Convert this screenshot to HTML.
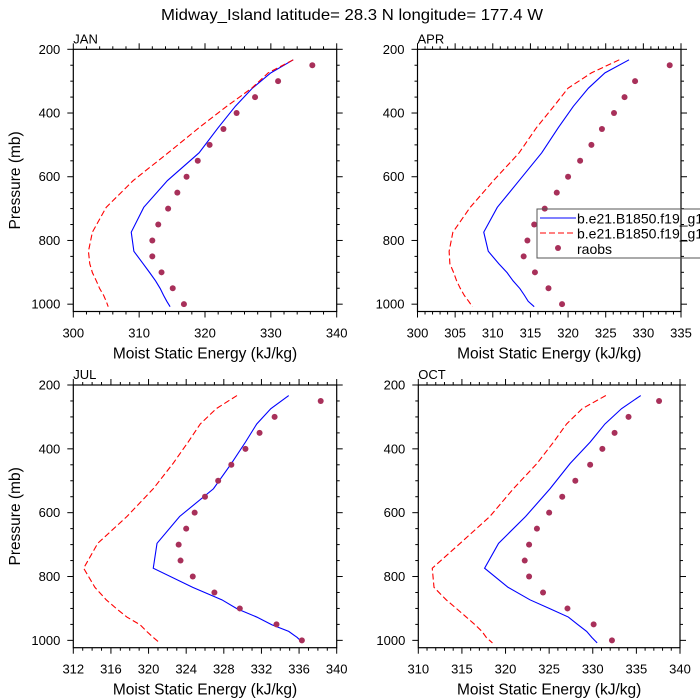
<!DOCTYPE html>
<html><head><meta charset="utf-8"><style>
html,body{margin:0;padding:0;background:#fff;}
svg{display:block;font-family:"Liberation Sans",sans-serif;}
</style></head><body>
<svg id="fig" width="700" height="700" viewBox="0 0 700 700" xmlns="http://www.w3.org/2000/svg">
<rect width="700" height="700" fill="#fff"/>
<text x="352" y="20" font-size="16" text-anchor="middle" textLength="382" lengthAdjust="spacingAndGlyphs">Midway_Island  latitude= 28.3 N longitude= 177.4 W</text>
</svg>
<script>
// Model pressure levels (mb)
const modelLevels = [233,274,322,379,446,525,612,696,774,834,873,901,927,951,972,991,1008];
const obsLevels = [250,300,350,400,450,500,550,600,650,700,750,800,850,900,950,1000];

const janBlue = [333.4,330,327.2,324.6,322,319.1,314.3,310.7,308.8,309.2,310.6,311.6,312.5,313.2,313.7,314.2,314.7];
const janRed  = [333.4,329.6,327.1,323.3,319.1,314.4,309.1,305,302.9,302.3,302.5,302.9,303.5,304,304.6,305,305.3];
const janObs  = [336.3,331.1,327.6,324.8,322.8,320.7,318.9,317.2,315.8,314.4,312.9,312.0,312.0,313.4,315.1,316.8];

const aprBlue = [328.1,324.9,322.7,320.7,318.7,316.5,313.5,310.6,308.8,309.4,310.8,311.9,312.7,313.6,314.2,314.7,315.5];
const aprRed  = [326.8,323.1,320,318.1,315.8,313.5,310.1,307,304.7,304.2,304.3,304.8,305.2,305.7,306.2,306.8,307.3];
const aprObs  = [333.5,328.9,327.5,326.1,324.5,323.1,321.6,320,318.5,316.9,315.5,314.6,314.1,315.6,317.4,319.2];

const julBlue = [334.9,333,331.5,330.3,328.8,326.9,323.3,320.9,320.5,324.7,327.8,329.4,331.5,333.1,334.9,335.8,336.4];
const julRed  = [329.4,327.2,325.5,324.2,322.6,320.5,317.7,314.6,313.1,314.3,315.5,316.6,317.7,319.1,319.8,320.5,321.2];
const julObs  = [338.3,333.4,331.8,330.3,328.8,327.4,326,324.9,324,323.2,323.4,324.7,327,329.7,333.6,336.3];

const octBlue = [335.5,333.3,331.4,329.7,327.4,325.1,322.3,319.2,317.6,320.3,322.8,325.1,327.2,328.3,329.3,329.9,330.5];
const octRed  = [331.5,328.8,327,325.5,323.6,320.9,318.2,314.8,311.6,311.8,313.2,314.4,315.5,316.5,317.3,317.8,318.5];
const octObs  = [337.6,334.1,332.5,331.1,329.7,328,326.5,325,323.6,322.7,322.2,322.7,324.3,327.1,330.1,332.2];

const monthNames = ["JAN","APR","JUL","OCT"];
const xMins = [300,300,312,310];
const xMaxs = [340,335,340,340];
const xMajorSteps = [10,5,4,5];
const xMinorSteps = [2,1,1,1];
const yTicks = [200,400,600,800,1000];

const NS="http://www.w3.org/2000/svg";
const svg=document.getElementById('fig');
function mk(tag,attrs,parent){const e=document.createElementNS(NS,tag);for(const k in attrs)e.setAttribute(k,attrs[k]);(parent||svg).appendChild(e);return e;}

const panels=[
 {L:73.3,R:336.7,T:49.3,B:311.5,blue:janBlue,red:janRed,obs:janObs},
 {L:417.5,R:681,T:49.3,B:311.5,blue:aprBlue,red:aprRed,obs:aprObs},
 {L:73.3,R:336.7,T:385,B:647.7,blue:julBlue,red:julRed,obs:julObs},
 {L:418.3,R:680,T:385,B:647.7,blue:octBlue,red:octRed,obs:octObs}
];
const pTop=200,pBot=1023;

panels.forEach((P,i)=>{
 const g=mk('g',{});
 
 
 const xs=v=>P.L+(v-xMins[i])/(xMaxs[i]-xMins[i])*(P.R-P.L);
 const ys=p=>P.T+(p-pTop)/(pBot-pTop)*(P.B-P.T);
 const tg=mk('g',{stroke:'#000','stroke-width':1},g);
 for(let v=xMins[i];v<=xMaxs[i]+1e-6;v+=xMinorSteps[i]){
  const major=Math.abs(((v-xMins[i])/xMajorSteps[i])-Math.round((v-xMins[i])/xMajorSteps[i]))<1e-6;
  const len=major?6:3;const x=xs(v);
  mk('line',{x1:x,x2:x,y1:P.B,y2:P.B+len},tg);
  mk('line',{x1:x,x2:x,y1:P.T,y2:P.T-len},tg);
  if(major){const t=mk('text',{x:x,y:P.B+26,'font-size':13,'text-anchor':'middle',stroke:'none'},g);t.textContent=v;
   }
 }
 for(let p=200;p<=1000;p+=50){
  const major=p%200===0;const len=major?6:3;const y=ys(p);
  mk('line',{x1:P.L,x2:P.L-len,y1:y,y2:y},tg);
  mk('line',{x1:P.R,x2:P.R+len,y1:y,y2:y},tg);
 }
 yTicks.forEach(p=>{const t=mk('text',{x:P.L-13,y:ys(p)+4.5,'font-size':13,'text-anchor':'end'},g);t.textContent=p;
  });
 const box=mk('rect',{x:P.L,y:P.T,width:P.R-P.L,height:P.B-P.T,fill:'none',stroke:'#000','stroke-width':1.2},g);
 
 const lab=mk('text',{x:P.L,y:P.T-6,'font-size':13},g);lab.textContent=monthNames[i];
 
 const xt=mk('text',{x:(P.L+P.R)/2,y:P.B+47,'font-size':15.5,'text-anchor':'middle'},g);xt.textContent='Moist Static Energy (kJ/kg)';
 
 if(i%2===0){const cy=(P.T+P.B)/2;const yt=mk('text',{x:20,y:cy,'font-size':15.5,'text-anchor':'middle',transform:'rotate(-90 20 '+cy+')'},g);
  yt.textContent='Pressure (mb)';}
 const bl=mk('polyline',{points:P.blue.map((v,k)=>xs(v)+','+ys(modelLevels[k])).join(' '),fill:'none',stroke:'#0000ff','stroke-width':1.1},g);
 
 const rl=mk('polyline',{points:P.red.map((v,k)=>xs(v)+','+ys(modelLevels[k])).join(' '),fill:'none',stroke:'#ff0000','stroke-width':1.1,'stroke-dasharray':'6,3'},g);
 
 P.obs.forEach((v,k)=>{const c=mk('circle',{cx:xs(v),cy:ys(obsLevels[k]),r:3,fill:'#a8305a'},g);
  });
});

const lg=mk('g',{});


mk('rect',{x:537,y:209,width:180,height:49,fill:'none',stroke:'#555','stroke-width':1},lg);
mk('line',{x1:540,x2:576,y1:218,y2:218,stroke:'#0000ff','stroke-width':1.1},lg);
mk('line',{x1:540,x2:576,y1:233,y2:233,stroke:'#ff0000','stroke-width':1.1,'stroke-dasharray':'6,3'},lg);
mk('circle',{cx:558,cy:248,r:3,fill:'#a8305a'},lg);
const l1=mk('text',{x:577,y:223.5,'font-size':14},lg);l1.textContent='b.e21.B1850.f19_g17';

const l2=mk('text',{x:577,y:238.5,'font-size':14},lg);l2.textContent='b.e21.B1850.f19_g17';

const l3=mk('text',{x:577,y:254,'font-size':14},lg);l3.textContent='raobs';

</script>
</body></html>
